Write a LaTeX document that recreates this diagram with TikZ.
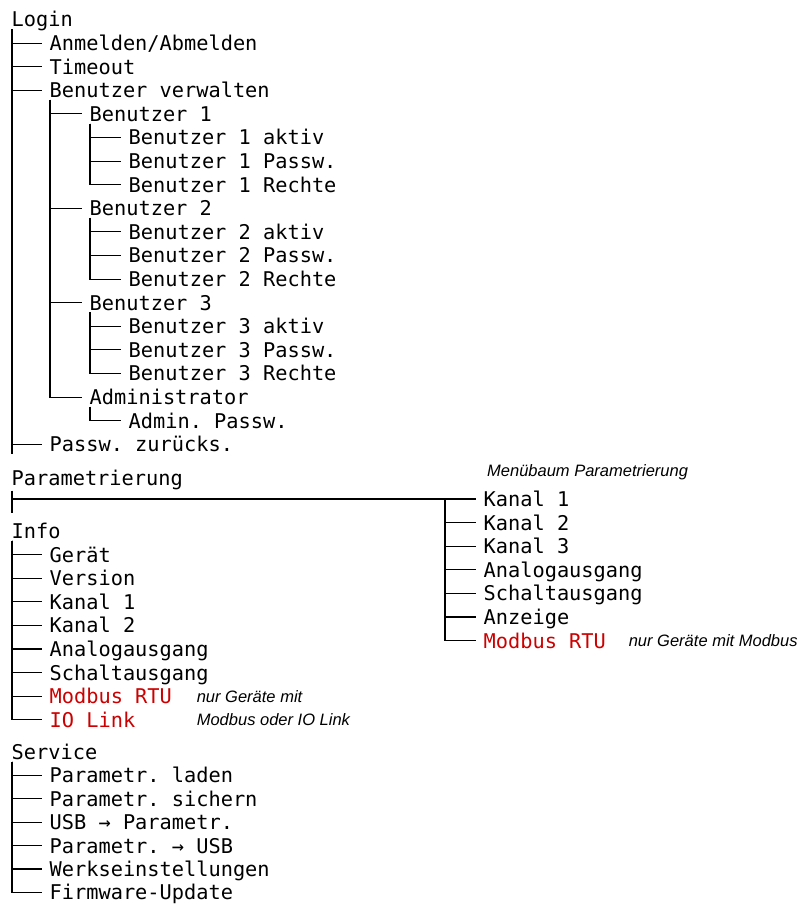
\documentclass[tikz,border=0pt]{standalone}
\usepackage{fontspec}
\setmonofont{DejaVu Sans Mono}
\newfontfamily\notefont{Liberation Sans}
\usepackage{xcolor}
\usepackage{tikz}
\usetikzlibrary{positioning}
\definecolor{optred}{RGB}{204,0,0}
\newcommand{\menufont}{\ttfamily\fontsize{20.3}{24}\selectfont}

\begin{document}
\begin{tikzpicture}[
    x=1pt, y=1pt,
    menu/.style={font=\menufont, anchor=west, inner xsep=7.5pt, inner ysep=2pt, text height=14.8pt, text depth=0pt},
    opt/.style={menu, text=optred},
    note/.style={font=\notefont\itshape\fontsize{16.5}{20}\selectfont, anchor=west, inner sep=0pt, text height=11.8pt, text depth=0pt},
    branch/.style={line width=1.1pt}
]
    \useasboundingbox (0,0) rectangle (804,-905);
    % Login
    \node [menu] (login) at (4,-19.5) {Login};
    \node [menu] (anmelden) at (42,-43.1) {Anmelden/Abmelden};
    \node [menu] (timeout) at (42,-66.7) {Timeout};
    \node [menu] (bverw) at (42,-90.3) {Benutzer verwalten};
    \node [menu] (bn1) at (82,-113.9) {Benutzer 1};
    \node [menu] (bn1akt) at (121,-137.5) {Benutzer 1 aktiv};
    \node [menu] (bn1pw) at (121,-161.1) {Benutzer 1 Passw.};
    \node [menu] (bn1re) at (121,-184.7) {Benutzer 1 Rechte};
    \node [menu] (bn2) at (82,-208.3) {Benutzer 2};
    \node [menu] (bn2akt) at (121,-231.9) {Benutzer 2 aktiv};
    \node [menu] (bn2pw) at (121,-255.5) {Benutzer 2 Passw.};
    \node [menu] (bn2re) at (121,-279.1) {Benutzer 2 Rechte};
    \node [menu] (bn3) at (82,-302.7) {Benutzer 3};
    \node [menu] (bn3akt) at (121,-326.3) {Benutzer 3 aktiv};
    \node [menu] (bn3pw) at (121,-349.9) {Benutzer 3 Passw.};
    \node [menu] (bn3re) at (121,-373.5) {Benutzer 3 Rechte};
    \node [menu] (admin) at (82,-397.1) {Administrator};
    \node [menu] (adminpw) at (121,-420.7) {Admin. Passw.};
    \node [menu] (pwreset) at (42,-444.3) {Passw. zurücks.};
    % Parametrierung
    \node [menu] (param) at (4,-478) {Parametrierung};
    \node [note] (ptitle) at (487,-471) {Menübaum Parametrierung};
    \node [menu] (kp1) at (476,-499) {Kanal 1};
    \node [menu] (kp2) at (476,-522.6) {Kanal 2};
    \node [menu] (kp3) at (476,-546.2) {Kanal 3};
    \node [menu] (kp4) at (476,-569.8) {Analogausgang};
    \node [menu] (kp5) at (476,-593.4) {Schaltausgang};
    \node [menu] (kp6) at (476,-617) {Anzeige};
    \node [opt] (kp7) at (476,-640.6) {Modbus RTU};
    \node [note, right=15pt of kp7] (pnote) {nur Geräte mit Modbus};
    % Info
    \node [menu] (info) at (4,-531) {Info};
    \node [menu] (igeraet) at (42,-554.6) {Gerät};
    \node [menu] (iversion) at (42,-578.2) {Version};
    \node [menu] (ik1) at (42,-601.8) {Kanal 1};
    \node [menu] (ik2) at (42,-625.4) {Kanal 2};
    \node [menu] (ianalog) at (42,-649) {Analogausgang};
    \node [menu] (ischalt) at (42,-672.6) {Schaltausgang};
    \node [opt] (imod) at (42,-696.2) {Modbus RTU};
    \node [opt] (ilink) at (42,-719.8) {IO Link};
    \node [note, right=17pt of imod] (inote1) {nur Geräte mit};
    \node [note] (inote2) at (inote1.west |- ilink.west) {Modbus oder IO Link};
    % Service
    \node [menu] (service) at (4,-752) {Service};
    \node [menu] (sload) at (42,-775.4) {Parametr. laden};
    \node [menu] (ssave) at (42,-798.8) {Parametr. sichern};
    \node [menu] (susbin) at (42,-822.2) {USB → Parametr.};
    \node [menu] (susbout) at (42,-845.6) {Parametr. → USB};
    \node [menu] (sreset) at (42,-869) {Werkseinstellungen};
    \node [menu] (sfw) at (42,-892.4) {Firmware-Update};
    % connectors
    \foreach \c in {anmelden,timeout,bverw,pwreset}
        \draw [branch] ([xshift=8pt]login.south west) |- (\c.west);
    \draw [branch] ([xshift=8pt]login.south west) -- ([xshift=8pt]login.south west |- pwreset.south);
    \foreach \c in {bn1,bn2,bn3,admin}
        \draw [branch] ([xshift=8pt]bverw.south west) |- (\c.west);
    \foreach \c in {bn1akt,bn1pw,bn1re}
        \draw [branch] ([xshift=8pt]bn1.south west) |- (\c.west);
    \foreach \c in {bn2akt,bn2pw,bn2re}
        \draw [branch] ([xshift=8pt]bn2.south west) |- (\c.west);
    \foreach \c in {bn3akt,bn3pw,bn3re}
        \draw [branch] ([xshift=8pt]bn3.south west) |- (\c.west);
    \draw [branch] ([xshift=8pt]admin.south west) |- (adminpw.west);
    \draw [branch] ([xshift=8pt,yshift=-3pt]param.south west) -- ++(0,-22);
    \draw [branch] ([xshift=8pt]param.south west |- kp1.west) -- (kp1.west);
    \foreach \c in {kp2,kp3,kp4,kp5,kp6,kp7}
        \draw [branch] ([xshift=-31pt]kp1.west) |- (\c.west);
    \foreach \c in {igeraet,iversion,ik1,ik2,ianalog,ischalt,imod,ilink}
        \draw [branch] ([xshift=8pt]info.south west) |- (\c.west);
    \foreach \c in {sload,ssave,susbin,susbout,sreset,sfw}
        \draw [branch] ([xshift=8pt]service.south west) |- (\c.west);
\end{tikzpicture}
\end{document}
